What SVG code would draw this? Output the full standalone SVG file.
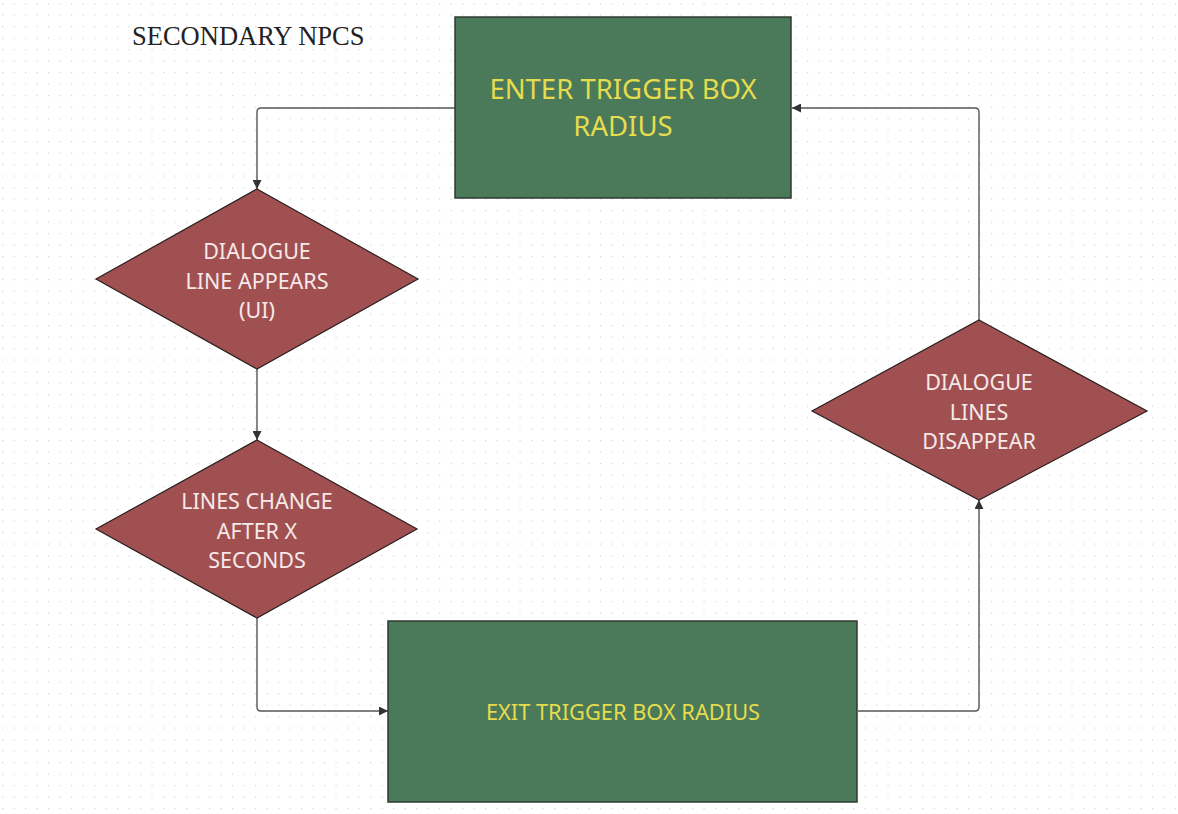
<svg xmlns="http://www.w3.org/2000/svg" width="1178" height="814" viewBox="0 0 1178 814">
<defs>
<pattern id="dots" x="2" y="3" width="11.5" height="11.5" patternUnits="userSpaceOnUse">
<rect x="0" y="0" width="1.2" height="1.2" fill="#d4d4d4"/>
</pattern>
<marker id="arrow" viewBox="0 0 10 10" refX="10" refY="5" markerWidth="9" markerHeight="9" markerUnits="userSpaceOnUse" orient="auto">
<path d="M0,0 L10,5 L0,10 Z" fill="#333333"/>
</marker>
<style>
.box{fill:#4a7a5a;stroke:#2e3a30;stroke-width:1.5}
.dia{fill:#a05050;stroke:#2a2020;stroke-width:1.2}
.btxt{font-family:"Noto Sans","Open Sans",sans-serif;fill:#e6dc4e;text-anchor:middle}
.dtxt{font-family:"Noto Sans","Open Sans",sans-serif;fill:#f7e9e9;text-anchor:middle;font-size:21.5px}
.conn{fill:none;stroke:#555555;stroke-width:1.4;marker-end:url(#arrow)}
</style>
</defs>
<rect width="1178" height="814" fill="#ffffff"/>
<rect width="1178" height="814" fill="url(#dots)"/>
<text x="132" y="45" font-family="'Liberation Serif','Times New Roman',serif" font-size="26.5" fill="#222222">SECONDARY NPCS</text>
<g id="connectors">
<path class="conn" d="M455,108 H261 Q257,108 257,112 V189"/>
<path class="conn" d="M257,369 V440"/>
<path class="conn" d="M257,618 V707 Q257,711 261,711 H388"/>
<path class="conn" d="M858,711 H975 Q979,711 979,707 V500"/>
<path class="conn" d="M979,320 V112 Q979,108 975,108 H792"/>
</g>
<g id="enter">
<rect class="box" x="455" y="17" width="336" height="181"/>
<text class="btxt" font-size="27.5" x="623" y="99">ENTER TRIGGER BOX</text>
<text class="btxt" font-size="27.5" x="623" y="136">RADIUS</text>
</g>
<g id="dialogue-appears">
<polygon class="dia" points="257,189 418,279 257,369 96,279"/>
<text class="dtxt" x="257" y="259">DIALOGUE</text>
<text class="dtxt" x="257" y="289">LINE APPEARS</text>
<text class="dtxt" x="257" y="318">(UI)</text>
</g>
<g id="lines-change">
<polygon class="dia" points="257,440 417,529 257,618 96,529"/>
<text class="dtxt" x="257" y="509">LINES CHANGE</text>
<text class="dtxt" x="257" y="539">AFTER X</text>
<text class="dtxt" x="257" y="568">SECONDS</text>
</g>
<g id="exit">
<rect class="box" x="388" y="621" width="469" height="181"/>
<text class="btxt" font-size="21.8" x="623" y="720">EXIT TRIGGER BOX RADIUS</text>
</g>
<g id="dialogue-disappear">
<polygon class="dia" points="979,320 1147,411 979,500 812,411"/>
<text class="dtxt" x="979" y="390">DIALOGUE</text>
<text class="dtxt" x="979" y="420">LINES</text>
<text class="dtxt" x="979" y="449">DISAPPEAR</text>
</g>
</svg>
